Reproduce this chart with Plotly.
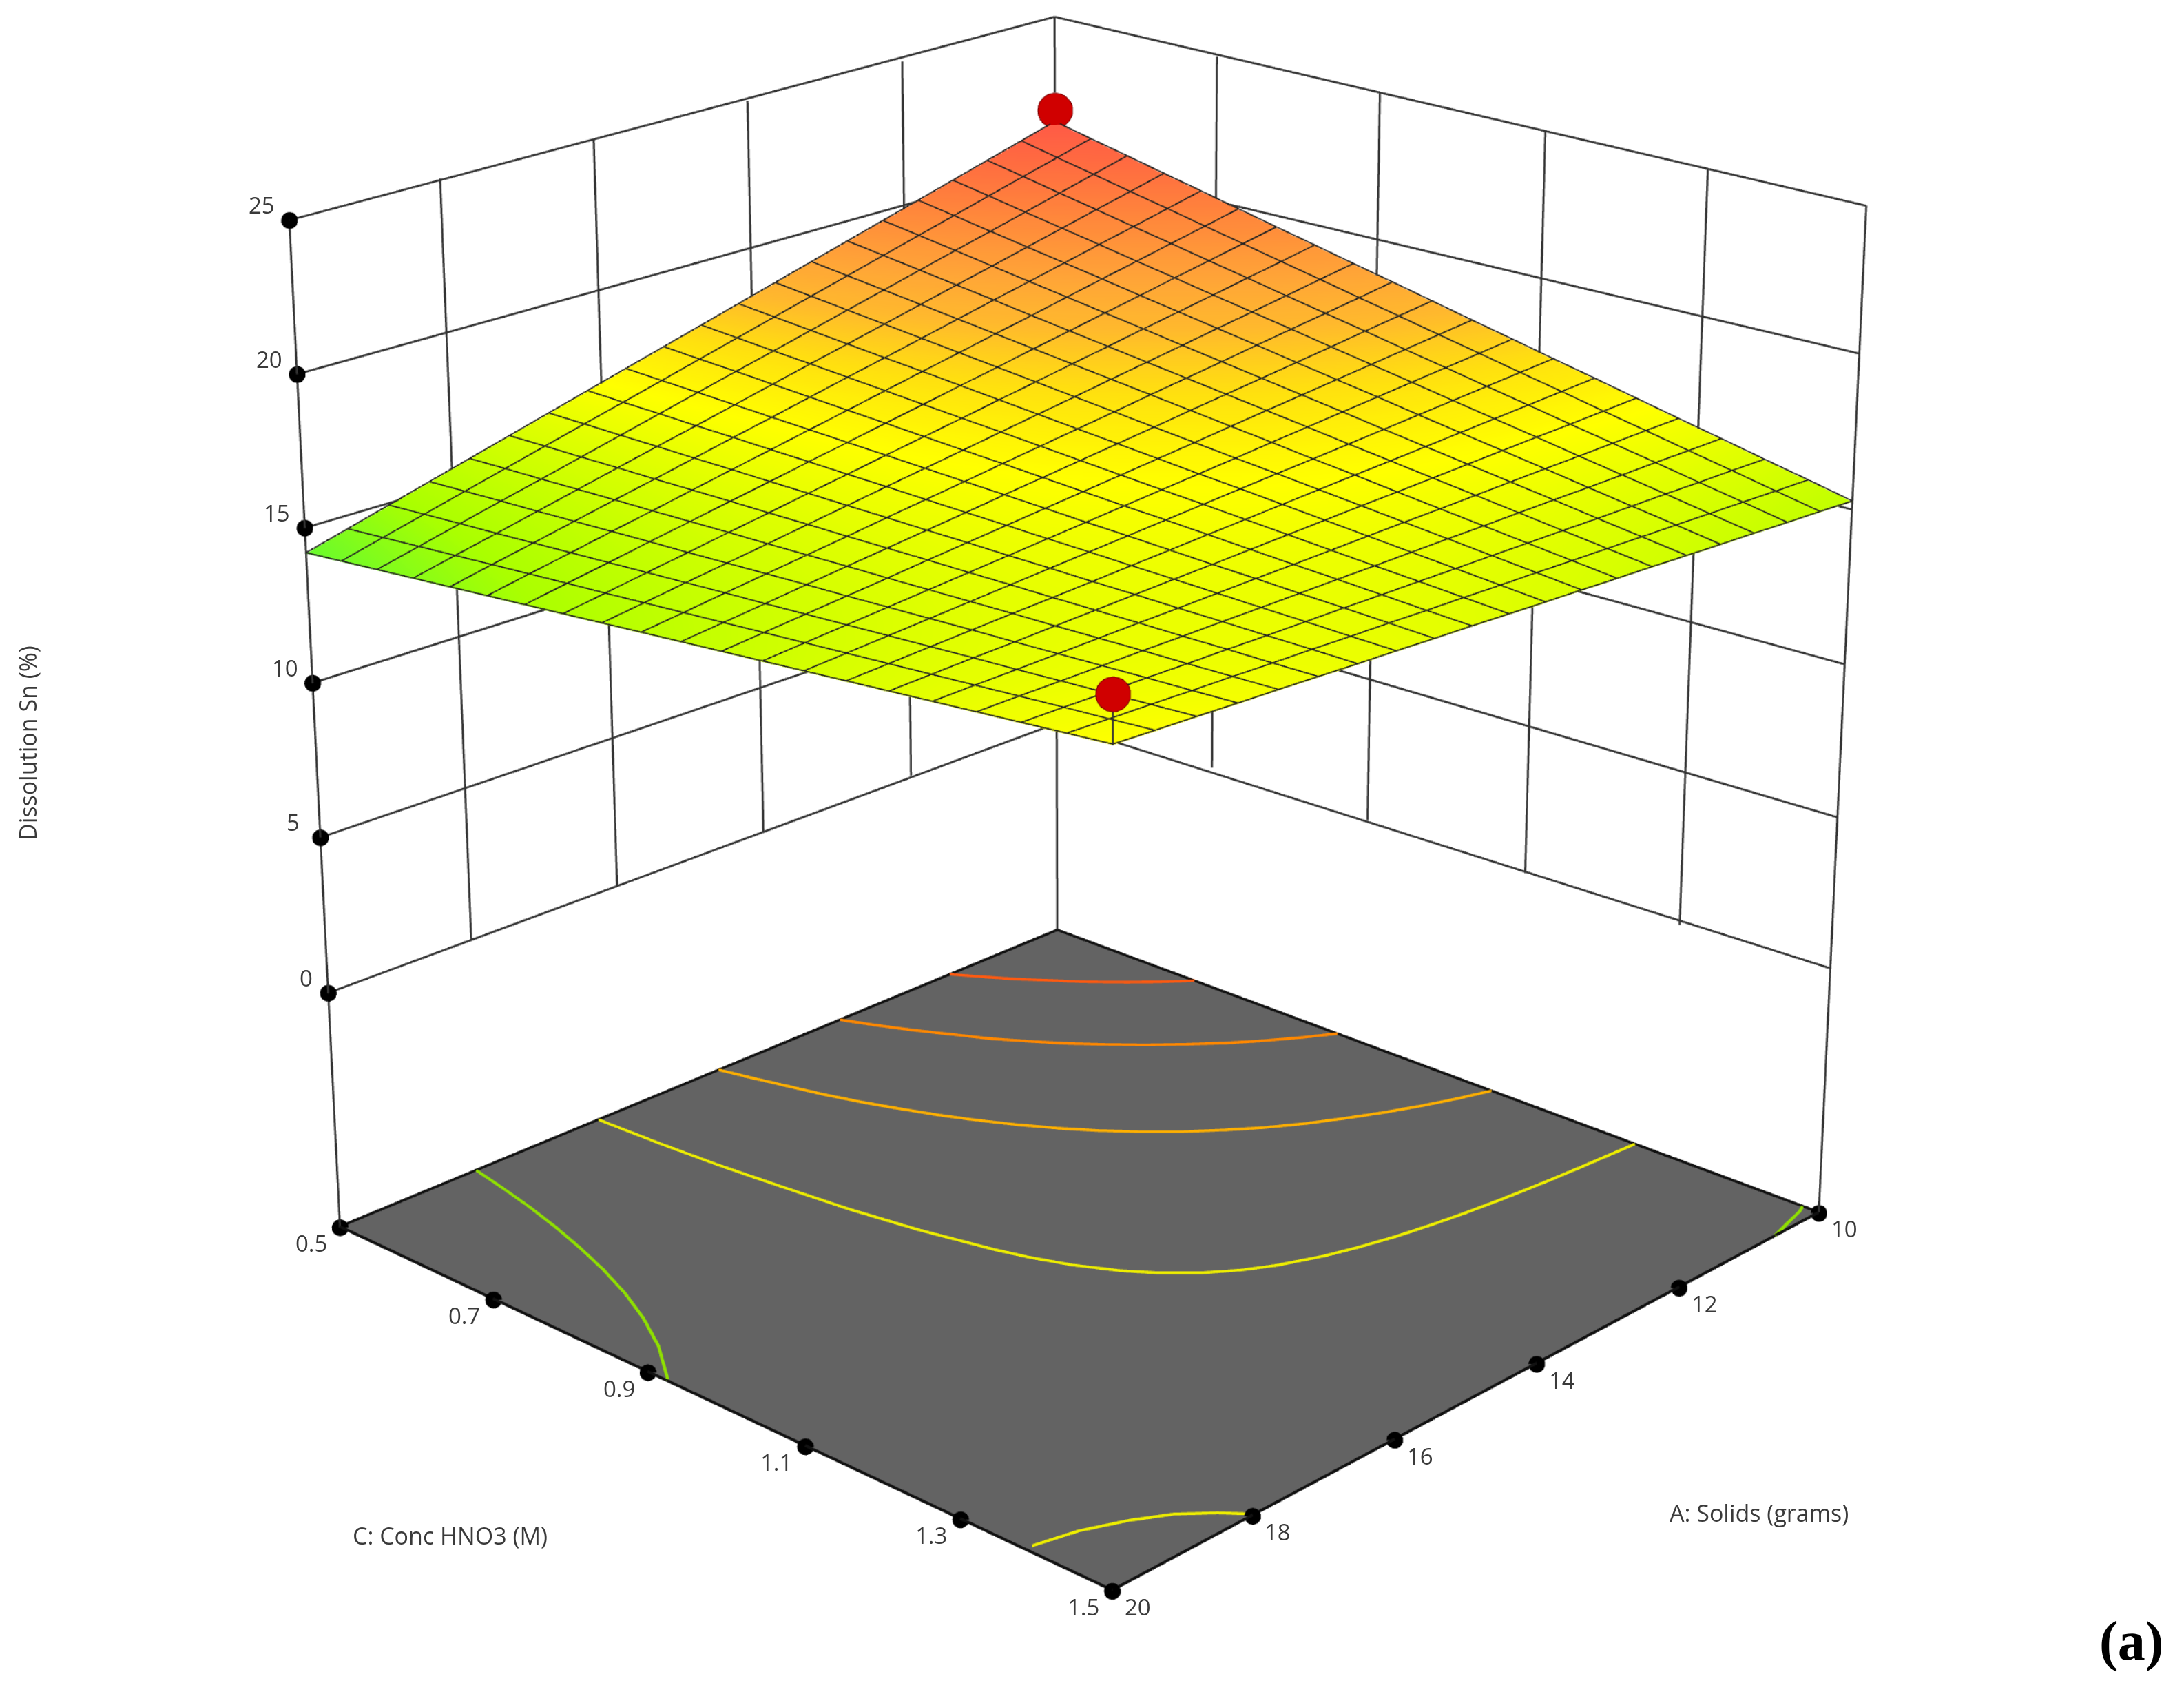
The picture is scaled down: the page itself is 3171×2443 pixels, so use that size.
import plotly.graph_objects as go

# axis ticks
a_ticks = [10, 12, 14, 16, 18, 20]
c_ticks = [0.5, 0.7, 0.9, 1.1, 1.3, 1.5]
z_ticks = [0, 5, 10, 15, 20, 25]
z_floor = -7.77
z_top = 25
# the reference spaces its ticks evenly on screen, so they sit a little off the true perspective
a_tick_pos = [10, 12.2, 14.32, 16.32, 18.22, 20]
c_tick_pos = [0.5, 0.72, 0.93, 1.133, 1.323, 1.5]
z_pos_left = [0.17, 5.3, 10.3, 15.22, 20, 24.7]
z_pos_right = [0.55, 5.55, 10.52, 15.45, 20.32, 24.85]

# response surface, rows follow c_grid, columns follow a_grid
a_grid = [10, 10.5, 11, 11.5, 12, 12.5, 13, 13.5, 14, 14.5, 15, 15.5, 16, 16.5, 17, 17.5, 18, 18.5, 19, 19.5, 20]
c_grid = [0.5, 0.55, 0.6, 0.65, 0.7, 0.75, 0.8, 0.85, 0.9, 0.95, 1.0, 1.05, 1.1, 1.15, 1.2, 1.25, 1.3, 1.35, 1.4, 1.45, 1.5]
sn_dissolution = [
    [21.41, 21.06, 20.71, 20.36, 20.01, 19.66, 19.31, 18.96, 18.61, 18.26, 17.91, 17.56, 17.21, 16.86, 16.51, 16.16, 15.81, 15.46, 15.11, 14.76, 14.41],
    [21.12, 20.79, 20.47, 20.14, 19.81, 19.48, 19.15, 18.82, 18.49, 18.16, 17.83, 17.50, 17.17, 16.84, 16.52, 16.19, 15.86, 15.53, 15.20, 14.87, 14.54],
    [20.84, 20.53, 20.22, 19.91, 19.60, 19.30, 18.99, 18.68, 18.37, 18.06, 17.75, 17.45, 17.14, 16.83, 16.52, 16.21, 15.90, 15.60, 15.29, 14.98, 14.67],
    [20.55, 20.26, 19.98, 19.69, 19.40, 19.11, 18.83, 18.54, 18.25, 17.96, 17.68, 17.39, 17.10, 16.81, 16.53, 16.24, 15.95, 15.66, 15.37, 15.09, 14.80],
    [20.27, 20.00, 19.73, 19.47, 19.20, 18.93, 18.67, 18.40, 18.13, 17.86, 17.60, 17.33, 17.06, 16.80, 16.53, 16.26, 16.00, 15.73, 15.46, 15.20, 14.93],
    [19.98, 19.73, 19.49, 19.24, 19.00, 18.75, 18.50, 18.26, 18.01, 17.77, 17.52, 17.27, 17.03, 16.78, 16.54, 16.29, 16.04, 15.80, 15.55, 15.31, 15.06],
    [19.69, 19.47, 19.24, 19.02, 18.79, 18.57, 18.34, 18.12, 17.89, 17.67, 17.44, 17.22, 16.99, 16.77, 16.54, 16.32, 16.09, 15.87, 15.64, 15.42, 15.19],
    [19.41, 19.20, 19.00, 18.79, 18.59, 18.39, 18.18, 17.98, 17.77, 17.57, 17.36, 17.16, 16.96, 16.75, 16.55, 16.34, 16.14, 15.93, 15.73, 15.52, 15.32],
    [19.12, 18.94, 18.75, 18.57, 18.39, 18.20, 18.02, 17.84, 17.65, 17.47, 17.29, 17.10, 16.92, 16.74, 16.55, 16.37, 16.18, 16.00, 15.82, 15.63, 15.45],
    [18.84, 18.67, 18.51, 18.35, 18.19, 18.02, 17.86, 17.70, 17.53, 17.37, 17.21, 17.05, 16.88, 16.72, 16.56, 16.39, 16.23, 16.07, 15.91, 15.74, 15.58],
    [18.55, 18.41, 18.27, 18.12, 17.98, 17.84, 17.70, 17.56, 17.41, 17.27, 17.13, 16.99, 16.85, 16.70, 16.56, 16.42, 16.28, 16.14, 15.99, 15.85, 15.71],
    [18.26, 18.14, 18.02, 17.90, 17.78, 17.66, 17.54, 17.42, 17.29, 17.17, 17.05, 16.93, 16.81, 16.69, 16.57, 16.45, 16.32, 16.20, 16.08, 15.96, 15.84],
    [17.98, 17.88, 17.78, 17.68, 17.58, 17.48, 17.38, 17.28, 17.17, 17.07, 16.97, 16.87, 16.77, 16.67, 16.57, 16.47, 16.37, 16.27, 16.17, 16.07, 15.97],
    [17.69, 17.61, 17.53, 17.45, 17.37, 17.29, 17.21, 17.13, 17.06, 16.98, 16.90, 16.82, 16.74, 16.66, 16.58, 16.50, 16.42, 16.34, 16.26, 16.18, 16.10],
    [17.41, 17.35, 17.29, 17.23, 17.17, 17.11, 17.05, 17.00, 16.94, 16.88, 16.82, 16.76, 16.70, 16.64, 16.58, 16.52, 16.47, 16.41, 16.35, 16.29, 16.23],
    [17.12, 17.08, 17.04, 17.01, 16.97, 16.93, 16.89, 16.85, 16.82, 16.78, 16.74, 16.70, 16.66, 16.63, 16.59, 16.55, 16.51, 16.47, 16.44, 16.40, 16.36],
    [16.83, 16.82, 16.80, 16.78, 16.77, 16.75, 16.73, 16.71, 16.70, 16.68, 16.66, 16.64, 16.63, 16.61, 16.59, 16.58, 16.56, 16.54, 16.52, 16.51, 16.49],
    [16.55, 16.55, 16.56, 16.56, 16.56, 16.57, 16.57, 16.57, 16.58, 16.58, 16.58, 16.59, 16.59, 16.59, 16.60, 16.60, 16.61, 16.61, 16.61, 16.62, 16.62],
    [16.26, 16.29, 16.31, 16.34, 16.36, 16.38, 16.41, 16.43, 16.46, 16.48, 16.51, 16.53, 16.56, 16.58, 16.60, 16.63, 16.65, 16.68, 16.70, 16.73, 16.75],
    [15.98, 16.02, 16.07, 16.11, 16.16, 16.20, 16.25, 16.29, 16.34, 16.38, 16.43, 16.47, 16.52, 16.56, 16.61, 16.65, 16.70, 16.74, 16.79, 16.83, 16.88],
    [15.69, 15.76, 15.82, 15.89, 15.95, 16.02, 16.09, 16.15, 16.22, 16.28, 16.35, 16.42, 16.48, 16.55, 16.61, 16.68, 16.75, 16.81, 16.88, 16.94, 17.01],
]

# design points shown in red
design_a = [10, 20]
design_c = [0.5, 1.5]
design_z = [21.83, 18.43]

# contour lines on the floor
contour_16a_a = [18.28, 18.37, 18.47, 18.59, 18.73, 18.89, 19.08, 19.31, 19.59, 19.95, 20.00]
contour_16a_c = [0.500, 0.550, 0.600, 0.650, 0.700, 0.750, 0.800, 0.850, 0.900, 0.950, 0.956]
contour_16b_a = [10.00, 10.12, 10.46, 10.70]
contour_16b_c = [1.481, 1.486, 1.494, 1.500]
contour_17a_a = [16.67, 16.63, 16.57, 16.48, 16.38, 16.24, 16.05, 15.94, 15.78, 15.56, 15.34, 15.05, 14.75, 14.45, 14.00, 13.65, 13.22, 12.76, 12.39, 11.94, 11.59, 11.19, 10.83, 10.00]
contour_17a_c = [0.500, 0.581, 0.662, 0.743, 0.824, 0.904, 0.984, 1.020, 1.060, 1.100, 1.130, 1.160, 1.183, 1.200, 1.219, 1.230, 1.241, 1.250, 1.256, 1.262, 1.266, 1.270, 1.273, 1.279]
contour_17b_a = [19.92, 19.46, 19.02, 18.68, 18.40, 18.20]
contour_17b_c = [1.400, 1.411, 1.430, 1.450, 1.476, 1.500]
contour_18_a = [15.02, 14.92, 14.81, 14.70, 14.57, 14.42, 14.26, 14.08, 13.88, 13.66, 13.42, 13.15, 12.86, 12.55, 12.23, 11.88, 11.52, 11.15, 10.77, 10.39, 10.00]
contour_18_c = [0.500, 0.540, 0.580, 0.620, 0.659, 0.698, 0.736, 0.773, 0.809, 0.844, 0.877, 0.909, 0.939, 0.966, 0.991, 1.014, 1.034, 1.053, 1.070, 1.085, 1.098]
contour_19_a = [13.29, 13.13, 12.95, 12.76, 12.57, 12.34, 12.11, 11.85, 11.58, 11.29, 10.99, 10.67, 10.34, 10.00]
contour_19_c = [0.500, 0.537, 0.574, 0.609, 0.644, 0.678, 0.710, 0.741, 0.771, 0.799, 0.826, 0.851, 0.874, 0.895]
contour_20_a = [11.66, 11.46, 11.25, 11.02, 10.79, 10.54, 10.28, 10.00]
contour_20_c = [0.500, 0.531, 0.562, 0.591, 0.620, 0.647, 0.673, 0.698]

# the chart has a long lens, so the canvas is far bigger than the window and shifted
FIG_SIZE = 6792
LEFT = -1795
TOP = -2521
FONT = "Open Sans"
TEXT = "#3a3a3a"

Z_MIN = 14.41
Z_MAX = 21.41
stops = [14.41, 15.2, 16.4, 17.0, 17.7, 18.4, 19.0, 20.0, 20.8, 21.41]
stop_colors = ["rgb(105,250,45)", "rgb(170,255,0)", "rgb(225,255,0)", "rgb(255,255,0)", "rgb(255,225,15)",
               "rgb(255,185,45)", "rgb(255,165,55)", "rgb(255,130,60)", "rgb(255,105,65)", "rgb(255,90,70)"]
colorscale = [[(s - Z_MIN) / (Z_MAX - Z_MIN), c] for s, c in zip(stops, stop_colors)]

flat = dict(ambient=1, diffuse=0, specular=0, fresnel=0, roughness=1)


def segments(seg_list):
    xs, ys, zs = [], [], []
    for p, q in seg_list:
        xs += [p[0], q[0], None]
        ys += [p[1], q[1], None]
        zs += [p[2], q[2], None]
    return xs, ys, zs


def line_trace(seg_list, color, width):
    xs, ys, zs = segments(seg_list)
    return go.Scatter3d(x=xs, y=ys, z=zs, mode="lines", line=dict(color=color, width=width),
                        hoverinfo="skip", showlegend=False)


def contour_trace(a, c, color):
    return go.Scatter3d(x=a, y=c, z=[z_floor + 0.03] * len(a), mode="lines", line=dict(color=color, width=4),
                        hoverinfo="skip", showlegend=False)


fig = go.Figure()

# floor
fig.add_trace(go.Mesh3d(x=[10, 20, 20, 10], y=[0.5, 0.5, 1.5, 1.5], z=[z_floor] * 4,
                        i=[0, 0], j=[1, 2], k=[2, 3], color="#636363", lighting=flat, hoverinfo="skip"))

# response surface
fig.add_trace(go.Surface(x=a_grid, y=c_grid, z=sn_dissolution, surfacecolor=sn_dissolution,
                         colorscale=colorscale, cmin=Z_MIN, cmax=Z_MAX, showscale=False, lighting=flat,
                         hoverinfo="skip"))

# mesh on the surface, lifted a little so it is not lost in the fill
lift = 0.03
mesh_x, mesh_y, mesh_z = [], [], []
for j, c in enumerate(c_grid):
    for i, a in enumerate(a_grid):
        mesh_x.append(a)
        mesh_y.append(c)
        mesh_z.append(sn_dissolution[j][i] + lift)
    mesh_x.append(None)
    mesh_y.append(None)
    mesh_z.append(None)
for i, a in enumerate(a_grid):
    for j, c in enumerate(c_grid):
        mesh_x.append(a)
        mesh_y.append(c)
        mesh_z.append(sn_dissolution[j][i] + lift)
    mesh_x.append(None)
    mesh_y.append(None)
    mesh_z.append(None)
fig.add_trace(go.Scatter3d(x=mesh_x, y=mesh_y, z=mesh_z, mode="lines", line=dict(color="#222222", width=1.6),
                           hoverinfo="skip", showlegend=False))

# walls
wall = []
for z, zl, zr in zip(z_ticks, z_pos_left, z_pos_right):
    wall.append(((20, 0.5, zl), (10, 0.5, z)))
    wall.append(((10, 0.5, z), (10, 1.5, zr)))
for a in a_tick_pos[1:-1]:
    wall.append(((a, 0.5, 0.1), (a, 0.5, z_top - 0.2)))
for c in c_tick_pos[1:-1]:
    wall.append(((10, c, 0.3), (10, c, z_top - 0.1)))
wall.append(((20, 0.5, z_floor), (20, 0.5, z_pos_left[-1])))
wall.append(((10, 0.5, z_floor), (10, 0.5, design_z[0] - 0.6)))
wall.append(((10, 0.5, design_z[0] + 0.6), (10, 0.5, z_top)))
wall.append(((10, 1.5, z_floor), (10, 1.5, z_pos_right[-1])))
wall.append(((20, 1.5, sn_dissolution[-1][-1]), (20, 1.5, design_z[1] - 0.4)))
fig.add_trace(line_trace(wall, "#333333", 2.5))

# floor outline
z_edge = z_floor + 0.03
fig.add_trace(line_trace([((20, 0.5, z_edge), (20, 1.5, z_edge)), ((20, 1.5, z_edge), (10, 1.5, z_edge)),
                          ((10, 1.5, z_edge), (10, 0.5, z_edge)), ((10, 0.5, z_edge), (20, 0.5, z_edge))], "#111111", 3.5))

# contours
fig.add_trace(contour_trace(contour_16a_a, contour_16a_c, "#8fe000"))
fig.add_trace(contour_trace(contour_16b_a, contour_16b_c, "#8fe000"))
fig.add_trace(contour_trace(contour_17a_a, contour_17a_c, "#eeee00"))
fig.add_trace(contour_trace(contour_17b_a, contour_17b_c, "#eeee00"))
fig.add_trace(contour_trace(contour_18_a, contour_18_c, "#ffb000"))
fig.add_trace(contour_trace(contour_19_a, contour_19_c, "#ff8800"))
fig.add_trace(contour_trace(contour_20_a, contour_20_c, "#ff5a10"))

# tick dots
dots_x = [20] * len(z_pos_left) + [20] * len(c_tick_pos) + a_tick_pos
dots_y = [0.5] * len(z_pos_left) + c_tick_pos + [1.5] * len(a_tick_pos)
dots_z = z_pos_left + [z_floor] * (len(c_tick_pos) + len(a_tick_pos))
fig.add_trace(go.Scatter3d(x=dots_x, y=dots_y, z=dots_z, mode="markers", marker=dict(size=6, color="black"),
                           hoverinfo="skip", showlegend=False))

# red design points
fig.add_trace(go.Scatter3d(x=design_a, y=design_c, z=design_z, mode="markers",
                           marker=dict(size=12.5, color="#d00000", line=dict(color="#7a0000", width=1)),
                           hoverinfo="skip", showlegend=False))


def tick_label(x, y, z, text, dx, dy):
    return dict(x=x, y=y, z=z, text=text, showarrow=False, xshift=dx, yshift=dy,
                font=dict(family=FONT, size=33, color=TEXT))


labels = []
for z, pos in zip(z_ticks, z_pos_left):
    labels.append(tick_label(20, 0.5, pos, str(z), -40 if z else -32, 22))
for c, pos in zip(c_ticks, c_tick_pos):
    labels.append(tick_label(20, pos, z_floor, str(c), -42, -23))
for a, pos in zip(a_ticks, a_tick_pos):
    labels.append(tick_label(pos, 1.5, z_floor, str(a), 37, -23))


def page_note(px, py, text, **kw):
    font = kw.pop("font", dict(family=FONT, size=34, color=TEXT))
    return dict(x=(px - LEFT) / FIG_SIZE, y=1 - (py - TOP) / FIG_SIZE, xref="paper", yref="paper", text=text,
                xanchor="center", yanchor="middle", showarrow=False, font=font, **kw)


notes = [
    page_note(653, 2229, "C: Conc HNO3 (M)"),
    page_note(2554, 2196, "A: Solids (grams)"),
    page_note(40, 1078, "Dissolution Sn (%)", textangle=-90),
    page_note(3094, 2382, "<b>(a)</b>", font=dict(family="Liberation Serif", size=80, color="black")),
]

# ranges run a little past the box, marks lying exactly on a bound get clipped at random
axis_off = dict(visible=False, showgrid=False, zeroline=False, showbackground=False, showspikes=False)
fig.update_layout(
    width=FIG_SIZE,
    height=FIG_SIZE,
    margin=dict(l=0, r=0, t=0, b=0),
    paper_bgcolor="white",
    showlegend=False,
    annotations=notes,
    scene=dict(
        domain=dict(x=[0, 1], y=[0, 1]),
        xaxis=dict(range=[9.95, 20.05], **axis_off),
        yaxis=dict(range=[0.495, 1.505], **axis_off),
        zaxis=dict(range=[z_floor - 0.05, z_top + 0.05], **axis_off),
        aspectmode="manual",
        aspectratio=dict(x=1.01, y=1.0284, z=1.01726),
        camera=dict(eye=dict(x=3.57832, y=3.39040, z=1.88980),
                    center=dict(x=-0.05429, y=-0.02279, z=0.10586),
                    up=dict(x=0, y=0, z=1)),
        annotations=labels,
    ),
)

shift = ("var gd = document.getElementById('{plot_id}');"
         "gd.style.position = 'absolute'; gd.style.left = '%dpx'; gd.style.top = '%dpx';"
         "document.body.style.margin = '0'; document.documentElement.style.overflow = 'hidden';" % (LEFT, TOP))
fig.write_html("out.html", post_script=shift, default_width="%dpx" % FIG_SIZE, default_height="%dpx" % FIG_SIZE)
